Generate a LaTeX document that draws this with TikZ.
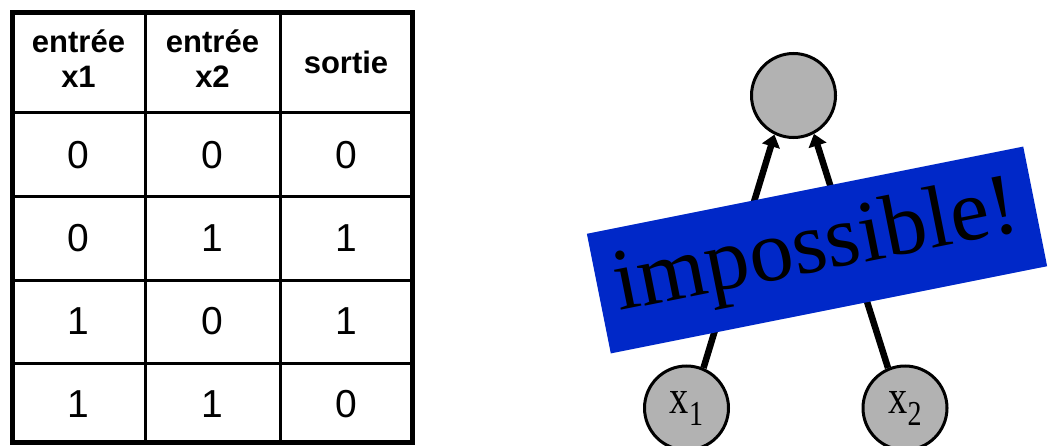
\documentclass[tikz,border=0pt]{standalone}
\usepackage{fontspec}
\setmainfont{Liberation Serif}
\setsansfont{Liberation Sans}
\usetikzlibrary{arrows.meta}
\definecolor{nodegray}{RGB}{178,178,178}
\definecolor{bannerblue}{RGB}{0,40,200}
\begin{document}
\begin{tikzpicture}[x=1pt,y=1pt,
  head/.style={font=\sffamily\bfseries\fontsize{31}{35}\selectfont, align=center, inner sep=0pt},
  cell/.style={font=\sffamily\fontsize{39}{44}\selectfont, inner sep=0pt},
  tablerule/.style={line width=3pt},
  frame/.style={line width=5pt},
  neuron/.style={circle, draw, line width=3pt, fill=nodegray, minimum size=84pt, inner sep=0pt,
    font=\fontsize{48}{50}\selectfont},
  link/.style={line width=6.5pt, -{Triangle[length=12pt,width=18pt]}},
  banner/.style={fill=bannerblue, minimum width=445pt, minimum height=122pt, inner sep=0pt,
    font=\fontsize{88}{90}\selectfont}]
\useasboundingbox (0,0) rectangle (1049,445);

% truth table grid
\draw[tablerule] (145,2.5) -- (145,432.5) (280,2.5) -- (280,432.5);
\draw[tablerule] (12,332) -- (412.5,332) (12,248) -- (412.5,248)
                 (12,165) -- (412.5,165) (12,82) -- (412.5,82);
\draw[frame] (12,2.5) rectangle (412.5,432.5);

% header
\node[head] (h1) at (78.5,386) {entrée\\x1};
\node[head] (h2) at (212.5,386) {entrée\\x2};
\node[head] (h3) at (346,383) {sortie};

% rows
\foreach \y/\a/\b/\s [count=\r] in {290/0/0/0, 206.5/0/1/1, 123.5/1/0/1, 41/1/1/0} {
  \node[cell] (r\r a) at (78.5,\y) {\a};
  \node[cell] (r\r b) at (212.5,\y) {\b};
  \node[cell] (r\r s) at (346,\y) {\s};
}

% network
\node[neuron] (out) at (793.5,349.5) {};
\node[neuron] (x1) at (686.5,37) {\scalebox{0.8}[1]{x\raisebox{-0.25em}{\fontsize{35}{36}\selectfont 1}}};
\node[neuron] (x2) at (905,37) {\scalebox{0.8}[1]{x\raisebox{-0.25em}{\fontsize{35}{36}\selectfont 2}}};

\draw[link] (x1.67) -- (out.244);
\draw[link] (x2.113) -- (out.298);

\node[banner, rotate=11.3] (label) at (817,195) {impossible!};
\end{tikzpicture}
\end{document}
